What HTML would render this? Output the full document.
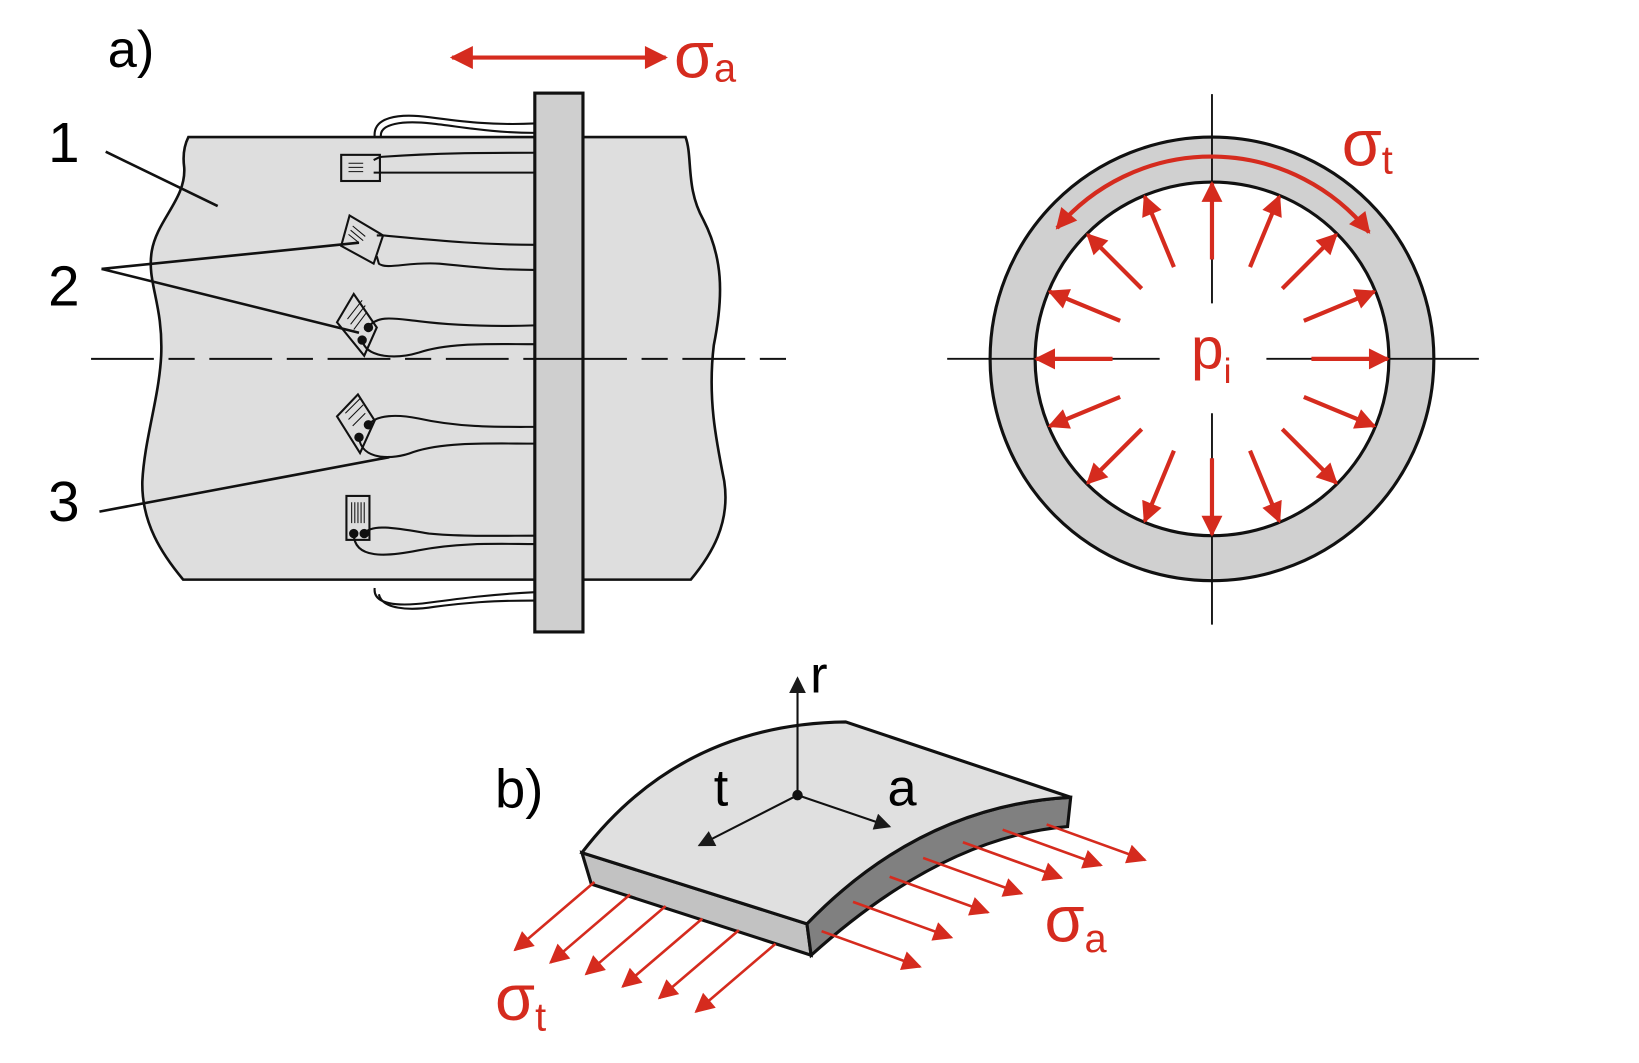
<!DOCTYPE html>
<html><head><meta charset="utf-8"><style>
html,body{margin:0;padding:0;background:#fff}
svg{display:block}
text{font-family:"Liberation Sans",sans-serif}
</style></head><body>
<svg width="1639" height="1063" viewBox="0 0 1566 1016" preserveAspectRatio="none" xmlns="http://www.w3.org/2000/svg">
<defs>
<marker id="rh" viewBox="0 0 10 10" refX="9" refY="5" markerWidth="6.5" markerHeight="5.5" orient="auto-start-reverse" markerUnits="strokeWidth"><path d="M0,0 L10,5 L0,10 z" fill="#d52b1e"/></marker>
<marker id="rr" viewBox="0 0 10 10" refX="9" refY="5" markerWidth="7" markerHeight="5" orient="auto-start-reverse" markerUnits="strokeWidth"><path d="M0,0 L10,5 L0,10 z" fill="#d52b1e"/></marker>
<marker id="rs" viewBox="0 0 10 10" refX="9" refY="5" markerWidth="14" markerHeight="7.5" orient="auto-start-reverse" markerUnits="strokeWidth"><path d="M0,0 L10,5 L0,10 z" fill="#d52b1e"/></marker>
<marker id="bh" viewBox="0 0 10 10" refX="9" refY="5" markerWidth="16" markerHeight="8" orient="auto" markerUnits="strokeWidth"><path d="M0,0 L10,5 L0,10 z" fill="#1a1a1a"/></marker>
</defs>

<text x="103" y="64" font-size="50">a)</text>
<line x1="432" y1="55" x2="636" y2="55" stroke="#d52b1e" stroke-width="4" marker-start="url(#rh)" marker-end="url(#rh)"/>
<text x="644" y="74" font-size="62" fill="#d52b1e">σ<tspan font-size="38" dy="4">a</tspan></text>

<path d="M358,131 C356,112 380,108 410,112 C440,116 470,120 511,118" fill="none" stroke="#111" stroke-width="2"/>
<path d="M364,131 C362,118 385,115 412,118 C440,121 470,127 511,127" fill="none" stroke="#111" stroke-width="2"/>

<path d="M180,131 L655,131 C662,150 655,180 672,210 C690,245 692,280 682,330 C676,380 684,420 692,460 C698,500 680,530 660,554 L175,554 C155,530 135,500 136,460 C138,420 152,380 154,340 C156,290 140,270 145,240 C150,210 178,190 176,160 C174,145 178,135 180,131 z" fill="#dedede" stroke="#111" stroke-width="2.5"/>

<path d="M358,562 C356,578 380,580 410,576 C440,572 470,568 511,566" fill="none" stroke="#111" stroke-width="2"/>
<path d="M362,568 C365,582 390,584 415,580 C445,576 470,574 511,574" fill="none" stroke="#111" stroke-width="2"/>

<line x1="87" y1="343" x2="765" y2="343" stroke="#111" stroke-width="2" stroke-dasharray="60,14,25,14"/>

<g stroke="#111" stroke-width="2" fill="none">
<rect x="326" y="148" width="37" height="25" fill="#ddd"/>
<path d="M333,156h14M333,160h14M333,164h14" stroke-width="1"/>
<path d="M357,153 L363,150 C420,146 460,146 511,146"/>
<path d="M357,165 L511,165"/>
<polygon points="334,206 366,225 357,252 326,235" fill="#ddd"/>
<path d="M335,220l12,10M337,216l12,10M333,224l10,8" stroke-width="1"/>
<path d="M360,225 L366,225 C420,230 460,234 511,234"/>
<path d="M360,245 L362,252 C370,258 390,250 420,252 C460,256 480,258 511,258"/>
<polygon points="338,281 360,313 348,340 322,308" fill="#ddd"/>
<path d="M332,305l14,-18M335,310l14,-18M338,315l12,-16" stroke-width="1"/>
<circle cx="352" cy="313" r="3.5" fill="#111"/><circle cx="346" cy="325" r="3.5" fill="#111"/>
<path d="M352,313 C360,300 380,305 400,307 C440,312 480,312 511,311"/>
<path d="M346,325 C350,343 380,343 400,337 C430,327 470,329 511,329"/>
<polygon points="342,377 358,402 344,433 322,398" fill="#ddd"/>
<path d="M330,395l14,-14M333,401l14,-14M337,407l12,-12" stroke-width="1"/>
<circle cx="352" cy="406" r="3.5" fill="#111"/><circle cx="343" cy="418" r="3.5" fill="#111"/>
<path d="M352,406 C360,396 380,396 400,400 C440,409 480,408 511,408"/>
<path d="M343,418 C345,440 375,440 395,432 C425,422 470,424 511,424"/>
<rect x="331" y="474" width="22" height="42" fill="#ddd"/>
<path d="M336,480v20M339,480v20M342,480v20M345,480v20M348,480v20" stroke-width="1"/>
<circle cx="338" cy="510" r="3.5" fill="#111"/><circle cx="348" cy="510" r="3.5" fill="#111"/>
<path d="M348,510 C355,500 380,505 410,510 C440,513 480,512 511,512"/>
<path d="M338,510 C338,535 370,532 400,526 C440,518 480,520 511,520"/>
</g>

<rect x="511" y="89" width="46" height="515" fill="#cfcfcf" stroke="#111" stroke-width="3"/>
<line x1="511" y1="343" x2="557" y2="343" stroke="#111" stroke-width="2"/>

<g stroke="#111" stroke-width="2.5">
<line x1="101" y1="145" x2="208" y2="197"/>
<line x1="97" y1="257" x2="343" y2="232"/>
<line x1="97" y1="257" x2="343" y2="318"/>
<line x1="95" y1="489" x2="372" y2="437"/>
</g>
<text x="46" y="155" font-size="54">1</text>
<text x="46" y="292" font-size="54">2</text>
<text x="46" y="498" font-size="54">3</text>

<circle cx="1158" cy="343" r="212" fill="#d0d0d0" stroke="#111" stroke-width="3"/>
<circle cx="1158" cy="343" r="169" fill="#fff" stroke="#111" stroke-width="3"/>
<g stroke="#111" stroke-width="1.8">
<line x1="905" y1="343" x2="1108" y2="343"/>
<line x1="1210" y1="343" x2="1413" y2="343"/>
<line x1="1158" y1="90" x2="1158" y2="290"/>
<line x1="1158" y1="395" x2="1158" y2="597"/>
</g>
<g stroke="#d52b1e" stroke-width="4" fill="none">
<g transform="translate(1158,343)">
<line x1="95" y1="0" x2="168" y2="0" marker-end="url(#rr)"/>
<line x1="95" y1="0" x2="168" y2="0" marker-end="url(#rr)" transform="rotate(22.5)"/>
<line x1="95" y1="0" x2="168" y2="0" marker-end="url(#rr)" transform="rotate(45)"/>
<line x1="95" y1="0" x2="168" y2="0" marker-end="url(#rr)" transform="rotate(67.5)"/>
<line x1="95" y1="0" x2="168" y2="0" marker-end="url(#rr)" transform="rotate(90)"/>
<line x1="95" y1="0" x2="168" y2="0" marker-end="url(#rr)" transform="rotate(112.5)"/>
<line x1="95" y1="0" x2="168" y2="0" marker-end="url(#rr)" transform="rotate(135)"/>
<line x1="95" y1="0" x2="168" y2="0" marker-end="url(#rr)" transform="rotate(157.5)"/>
<line x1="95" y1="0" x2="168" y2="0" marker-end="url(#rr)" transform="rotate(180)"/>
<line x1="95" y1="0" x2="168" y2="0" marker-end="url(#rr)" transform="rotate(202.5)"/>
<line x1="95" y1="0" x2="168" y2="0" marker-end="url(#rr)" transform="rotate(225)"/>
<line x1="95" y1="0" x2="168" y2="0" marker-end="url(#rr)" transform="rotate(247.5)"/>
<line x1="95" y1="0" x2="168" y2="0" marker-end="url(#rr)" transform="rotate(270)"/>
<line x1="95" y1="0" x2="168" y2="0" marker-end="url(#rr)" transform="rotate(292.5)"/>
<line x1="95" y1="0" x2="168" y2="0" marker-end="url(#rr)" transform="rotate(315)"/>
<line x1="95" y1="0" x2="168" y2="0" marker-end="url(#rr)" transform="rotate(337.5)"/>
</g>
<path d="M1010,218 A193,193 0 0 1 1308,222" marker-start="url(#rr)" marker-end="url(#rr)"/>
</g>
<text x="1282" y="158" font-size="62" fill="#d52b1e">σ<tspan font-size="38" dy="8">t</tspan></text>
<text x="1138" y="352" font-size="56" fill="#d52b1e">p<tspan font-size="34" dy="14">i</tspan></text>

<text x="473" y="772" font-size="52">b)</text>
<path d="M556,815 L771,883 L775,913 L565,845 z" fill="#c2c2c2" stroke="#111" stroke-width="3"/>
<path d="M771,883 Q880,770 1023,762 L1020,790 Q900,800 775,913 z" fill="#808080" stroke="#111" stroke-width="3"/>
<path d="M556,815 Q650,692 808,690 L1023,762 Q880,770 771,883 z" fill="#e0e0e0" stroke="#111" stroke-width="3"/>
<g stroke="#111" stroke-width="2">
<line x1="762" y1="760" x2="762" y2="648" marker-end="url(#bh)"/>
<line x1="762" y1="760" x2="668" y2="808" marker-end="url(#bh)"/>
<line x1="762" y1="760" x2="850" y2="790" marker-end="url(#bh)"/>
</g>
<circle cx="762" cy="760" r="5" fill="#111"/>
<text x="774" y="662" font-size="50">r</text>
<text x="682" y="770" font-size="50">t</text>
<text x="848" y="770" font-size="50">a</text>

<g stroke="#d52b1e" stroke-width="2.5">
<line x1="568" y1="843" x2="492" y2="908" marker-end="url(#rs)"/>
<line x1="602" y1="855" x2="526" y2="920" marker-end="url(#rs)"/>
<line x1="636" y1="866" x2="560" y2="931" marker-end="url(#rs)"/>
<line x1="671" y1="878" x2="595" y2="943" marker-end="url(#rs)"/>
<line x1="706" y1="889" x2="630" y2="954" marker-end="url(#rs)"/>
<line x1="741" y1="902" x2="665" y2="967" marker-end="url(#rs)"/>
<line x1="785" y1="890" x2="879" y2="924" marker-end="url(#rs)"/>
<line x1="815" y1="862" x2="909" y2="896" marker-end="url(#rs)"/>
<line x1="850" y1="838" x2="944" y2="872" marker-end="url(#rs)"/>
<line x1="882" y1="820" x2="976" y2="854" marker-end="url(#rs)"/>
<line x1="920" y1="805" x2="1014" y2="839" marker-end="url(#rs)"/>
<line x1="958" y1="793" x2="1052" y2="827" marker-end="url(#rs)"/>
<line x1="1000" y1="788" x2="1094" y2="822" marker-end="url(#rs)"/>
</g>
<text x="998" y="900" font-size="62" fill="#d52b1e">σ<tspan font-size="38" dy="10">a</tspan></text>
<text x="473" y="975" font-size="62" fill="#d52b1e">σ<tspan font-size="38" dy="10">t</tspan></text>
</svg>
</body></html>
